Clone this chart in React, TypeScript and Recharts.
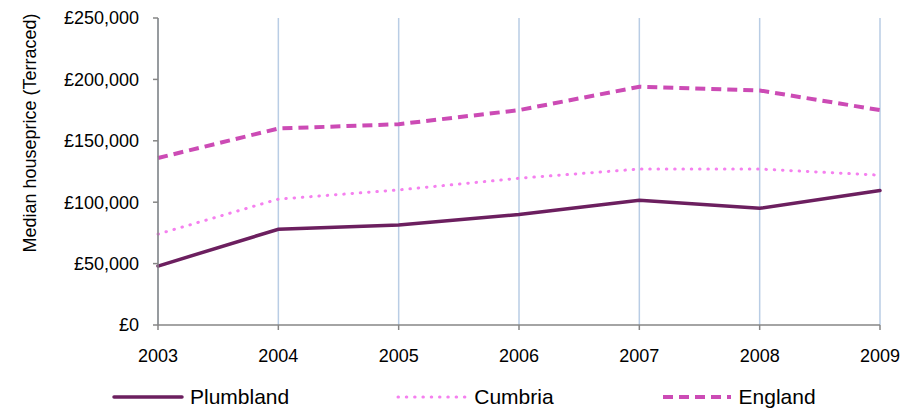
import React from 'react';
import { LineChart, Line, XAxis, YAxis, CartesianGrid, Legend } from 'recharts';

// median terraced house price, £
const years = ['2003', '2004', '2005', '2006', '2007', '2008', '2009'];
const plumbland = [48000, 78000, 81500, 90000, 101500, 95000, 109500];
const cumbria = [74000, 102500, 110000, 119500, 127000, 127000, 122000];
const england = [136000, 160000, 163500, 175000, 194000, 191000, 175000];
const yTicks = [0, 50000, 100000, 150000, 200000, 250000];

const data = years.map((year, i) => ({
  year,
  Plumbland: plumbland[i],
  Cumbria: cumbria[i],
  England: england[i],
}));

const FONT = '"Liberation Sans", Arial, sans-serif';

const SERIES = [
  { key: 'Plumbland', color: '#6c1f5f', width: 3.5, dash: undefined, cap: 'round' as const },
  { key: 'Cumbria', color: '#f580ef', width: 3, dash: '0.5 7.8', cap: 'round' as const },
  { key: 'England', color: '#cc4bb5', width: 4, dash: '10 6', cap: 'butt' as const },
];

const fmtPound = (v: number) => '£' + v.toLocaleString('en-GB');

function LegendRow() {
  return (
    <div style={{ height: 34, display: 'flex', alignItems: 'center', paddingLeft: 112, fontFamily: FONT, fontSize: 21, color: '#000' }}>
      {SERIES.map((s, i) => (
        <div key={s.key} style={{ display: 'flex', alignItems: 'center', marginRight: i < 2 ? 107 : 0 }}>
          <svg width={72} height={10}>
            <line x1={2} y1={5} x2={70} y2={5} stroke={s.color} strokeWidth={s.width}
              strokeDasharray={s.dash} strokeLinecap={s.cap} />
          </svg>
          <span style={{ marginLeft: 6 }}>{s.key}</span>
        </div>
      ))}
    </div>
  );
}

export default function App() {
  return (
    <div style={{ position: 'absolute', left: 0, top: 0, background: '#fff' }}>
      <LineChart width={917} height={414} data={data} margin={{ top: 18, right: 37, left: 0, bottom: 0 }}>
        <CartesianGrid horizontal={false} stroke="#b9cde5" strokeWidth={1.5} />
        <XAxis
          dataKey="year"
          height={55}
          stroke="#868686"
          strokeWidth={1.5}
          tickSize={5}
          tickMargin={19}
          tick={{ fill: '#000', fontSize: 18, fontFamily: FONT }}
        />
        <YAxis
          width={158}
          domain={[0, 250000]}
          ticks={yTicks}
          tickFormatter={fmtPound}
          stroke="#868686"
          strokeWidth={1.5}
          tickSize={5}
          tickMargin={14}
          tick={{ fill: '#000', fontSize: 18, fontFamily: FONT }}
          label={() => (
            <text x={30} y={133} transform="rotate(-90 30 133)" textAnchor="middle"
              dominantBaseline="central" fontSize={18} fontFamily={FONT} fill="#000">
              Median houseprice (Terraced)
            </text>
          )}
        />
        {SERIES.map((s) => (
          <Line
            key={s.key}
            type="linear"
            dataKey={s.key}
            stroke={s.color}
            strokeWidth={s.width}
            strokeDasharray={s.dash}
            strokeLinecap={s.cap}
            dot={false}
            activeDot={false}
            isAnimationActive={false}
          />
        ))}
        <Legend verticalAlign="bottom" content={() => <LegendRow />} />
      </LineChart>
    </div>
  );
}
